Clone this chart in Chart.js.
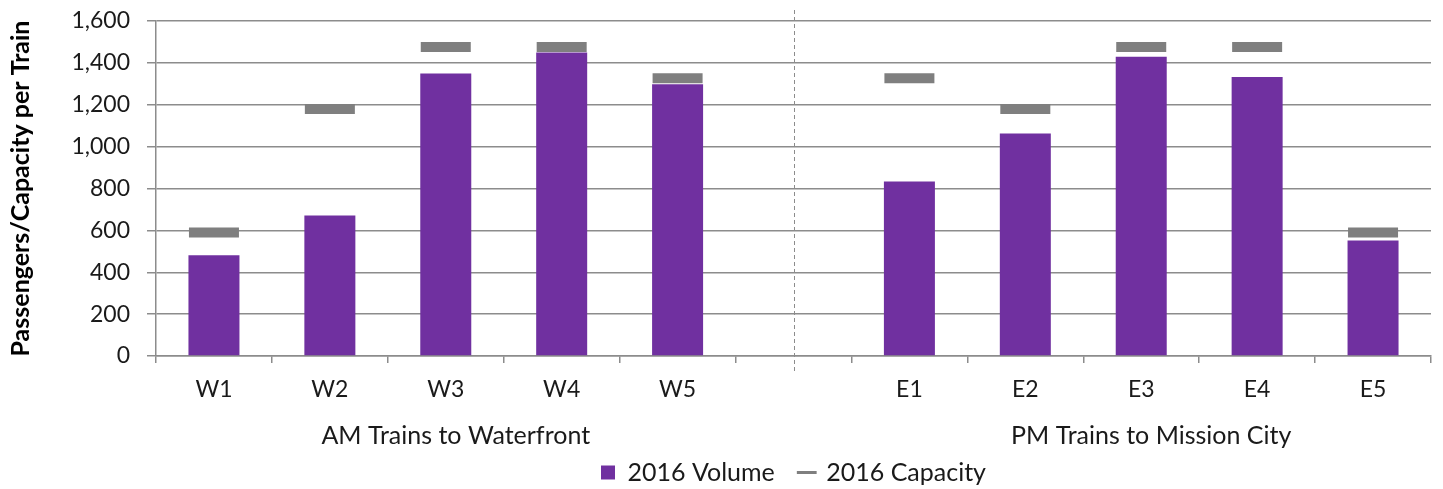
<!DOCTYPE html>
<html>
<head>
<meta charset="utf-8">
<script src="https://cdn.jsdelivr.net/npm/chart.js@4.4.1/dist/chart.umd.min.js"></script>
<style>
  html, body { margin: 0; padding: 0; background: #ffffff; }
  #wrap { width: 1443px; height: 489px; position: relative; }
</style>
</head>
<body>
<div id="wrap"><canvas id="c" width="1443" height="489"></canvas></div>
<script>
const categories = ['W1', 'W2', 'W3', 'W4', 'W5', '', 'E1', 'E2', 'E3', 'E4', 'E5'];
const volume2016 = [481, 671, 1349, 1450, 1298, null, 833, 1063, 1429, 1333, 552];
const capacity2016 = [590, 1180, 1476, 1476, 1326, null, 1326, 1180, 1476, 1476, 590];
const groupLabels = ['AM Trains to Waterfront', 'PM Trains to Mission City'];
const groupCenters = ['W3', 'E3'];
const dividerCategory = 5;
const yTicks = { min: 0, max: 1600, step: 200 };

const FONT = 'Lato, "Open Sans", sans-serif';
const PURPLE = '#7030A0';
const GREY = '#7f7f7f';
const TEXT = '#1a1a1a';

const extrasPlugin = {
  id: 'extras',
  afterDraw(chart) {
    const ctx = chart.ctx;
    const xs = chart.scales.x;
    // dashed divider
    const dx = Math.round(xs.getPixelForValue(dividerCategory)) + 0.5;
    ctx.save();
    ctx.strokeStyle = '#8c8c8c';
    ctx.lineWidth = 1;
    ctx.setLineDash([4, 3]);
    ctx.beginPath();
    ctx.moveTo(dx, 10);
    ctx.lineTo(dx, 373);
    ctx.stroke();
    ctx.restore();
    // group labels
    ctx.save();
    ctx.font = '25px ' + FONT;
    ctx.fillStyle = TEXT;
    ctx.textAlign = 'center';
    ctx.textBaseline = 'middle';
    groupLabels.forEach((g, i) => {
      const idx = categories.indexOf(groupCenters[i]);
      ctx.fillText(g, xs.getPixelForValue(idx) + 10, 436);
    });
    ctx.restore();
  }
};

new Chart(document.getElementById('c'), {
  type: 'bar',
  data: {
    labels: categories,
    datasets: [
      {
        type: 'line',
        label: '2016 Capacity',
        data: capacity2016,
        showLine: false,
        pointStyle: 'line',
        pointRadius: 25,
        pointHoverRadius: 25,
        pointBorderWidth: 10,
        pointHoverBorderWidth: 10,
        borderColor: GREY,
        backgroundColor: GREY,
        order: 0
      },
      {
        type: 'bar',
        label: '2016 Volume',
        data: volume2016,
        backgroundColor: PURPLE,
        borderWidth: 0,
        barPercentage: 0.44,
        categoryPercentage: 1.0,
        order: 1
      }
    ]
  },
  options: {
    responsive: false,
    animation: false,
    devicePixelRatio: 1,
    layout: { autoPadding: false, padding: { left: 0, right: 12, top: 21, bottom: -6 } },
    plugins: {
      tooltip: { enabled: false },
      legend: {
        position: 'bottom',
        fullSize: false,
        labels: {
          font: { family: FONT, size: 25 },
          color: TEXT,
          usePointStyle: true,
          boxWidth: 14,
          boxHeight: 14,
          padding: 25,
          generateLabels(chart) {
            return [
              { text: '2016 Volume', fillStyle: PURPLE, strokeStyle: PURPLE, lineWidth: 0, pointStyle: 'rect', datasetIndex: 1, fontColor: TEXT },
              { text: '2016 Capacity', fillStyle: GREY, strokeStyle: GREY, lineWidth: 3, pointStyle: 'line', datasetIndex: 0, fontColor: TEXT }
            ];
          }
        }
      }
    },
    scales: {
      x: {
        offset: true,
        afterFit(scale) { scale.height = 79; scale.paddingLeft = 0; scale.paddingRight = 0; },
        grid: {
          offset: true,
          drawOnChartArea: false,
          drawTicks: true,
          tickLength: 7,
          color: '#8c8c8c',
          lineWidth: 1.5
        },
        border: { color: '#8c8c8c', width: 1.5 },
        ticks: {
          font: { family: FONT, size: 23 },
          color: TEXT,
          padding: 13,
          maxRotation: 0,
          autoSkip: false
        }
      },
      y: {
        min: yTicks.min,
        max: yTicks.max,
        afterFit(scale) { scale.width = 156; scale.paddingTop = 0; scale.paddingBottom = 0; },
        grid: {
          color: '#8c8c8c',
          lineWidth: 1.5,
          drawTicks: true,
          tickLength: 9
        },
        border: { color: '#8c8c8c', width: 1.5 },
        ticks: {
          stepSize: yTicks.step,
          font: { family: FONT, size: 23 },
          color: TEXT,
          padding: 17,
          callback: v => v.toLocaleString('en-US')
        },
        title: {
          display: true,
          text: 'Passengers/Capacity per Train',
          font: { family: FONT, size: 25, weight: 'bold' },
          color: '#000000',
          padding: { top: 6, bottom: 0 }
        }
      }
    }
  },
  plugins: [extrasPlugin]
});
</script>
</body>
</html>
